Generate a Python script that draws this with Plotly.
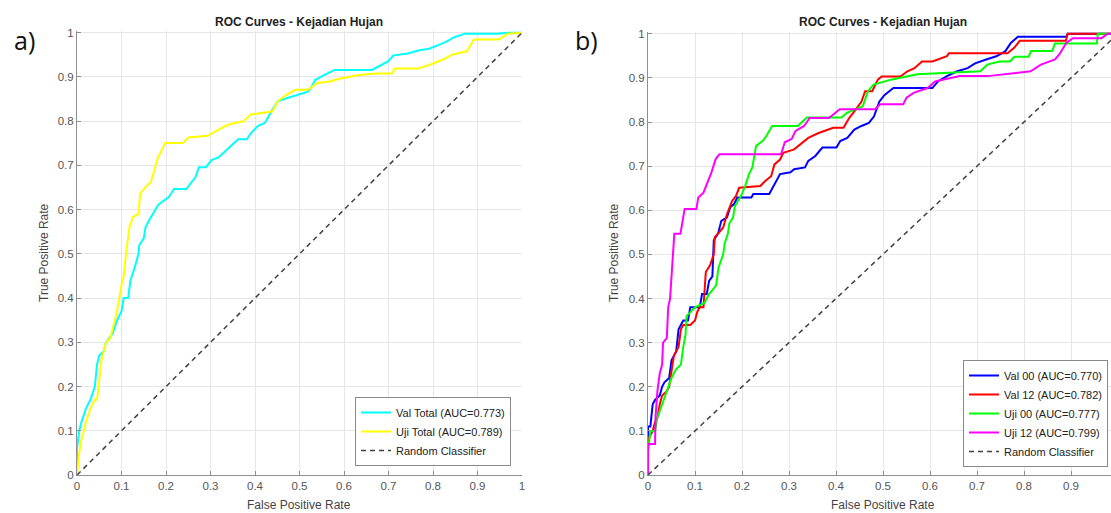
import plotly.graph_objects as go

W, H = 1111, 513

# ---------------- data ----------------
tick_vals = [0, 0.1, 0.2, 0.3, 0.4, 0.5, 0.6, 0.7, 0.8, 0.9, 1]
tick_text = ["0", "0.1", "0.2", "0.3", "0.4", "0.5", "0.6", "0.7", "0.8", "0.9", "1"]

diag_fpr = [0, 1]
diag_tpr = [0, 1]

# Panel a)
val_total_fpr = [0, 0, 0.005, 0.01, 0.02, 0.03, 0.04, 0.045, 0.05, 0.06,
                 0.065, 0.08, 0.09, 0.1, 0.105, 0.115, 0.12, 0.13, 0.138, 0.14,
                 0.15, 0.154, 0.162, 0.17, 0.182, 0.194, 0.206, 0.218, 0.246, 0.254,
                 0.266, 0.274, 0.29, 0.302, 0.318, 0.33, 0.342, 0.362, 0.382, 0.39,
                 0.406, 0.422, 0.439, 0.451, 0.471, 0.495, 0.519, 0.527, 0.535, 0.555,
                 0.579, 0.663, 0.683, 0.699, 0.711, 0.743, 0.767, 0.791, 0.812, 0.828,
                 0.848, 0.872, 0.944, 0.968, 1.0]
val_total_tpr = [0, 0.06, 0.1, 0.12, 0.15, 0.17, 0.2, 0.25, 0.27, 0.28,
                 0.3, 0.32, 0.35, 0.37, 0.4, 0.4, 0.44, 0.47, 0.5, 0.52,
                 0.535, 0.56, 0.576, 0.59, 0.61, 0.62, 0.628, 0.647, 0.647, 0.658,
                 0.673, 0.696, 0.696, 0.712, 0.718, 0.729, 0.74, 0.759, 0.759, 0.772,
                 0.789, 0.796, 0.826, 0.845, 0.852, 0.86, 0.867, 0.878, 0.893, 0.904,
                 0.916, 0.916, 0.927, 0.935, 0.949, 0.953, 0.96, 0.964, 0.972, 0.979,
                 0.99, 0.998, 0.998, 1.0, 1.0]

uji_total_fpr = [0, 0.005, 0.01, 0.02, 0.03, 0.04, 0.045, 0.05, 0.055, 0.065,
                 0.075, 0.08, 0.09, 0.1, 0.105, 0.11, 0.118, 0.126, 0.138, 0.142,
                 0.154, 0.166, 0.174, 0.182, 0.19, 0.198, 0.238, 0.25, 0.294, 0.318,
                 0.342, 0.374, 0.39, 0.439, 0.451, 0.471, 0.491, 0.519, 0.539, 0.567,
                 0.595, 0.631, 0.671, 0.707, 0.715, 0.767, 0.791, 0.824, 0.844, 0.876,
                 0.892, 0.948, 0.968, 1.0]
uji_total_tpr = [0, 0.05, 0.08, 0.12, 0.15, 0.17, 0.17, 0.22, 0.26, 0.3,
                 0.31, 0.33, 0.37, 0.43, 0.45, 0.5, 0.561, 0.584, 0.59, 0.636,
                 0.651, 0.662, 0.688, 0.718, 0.733, 0.751, 0.751, 0.763, 0.767, 0.781,
                 0.793, 0.8, 0.815, 0.822, 0.845, 0.86, 0.871, 0.871, 0.886, 0.89,
                 0.897, 0.904, 0.908, 0.908, 0.919, 0.919, 0.927, 0.94, 0.951, 0.958,
                 0.985, 0.985, 0.998, 1.0]

# Panel b)
val00_fpr = [0, 0, 0.005, 0.01, 0.015, 0.025, 0.03, 0.035, 0.045, 0.05,
             0.055, 0.06, 0.065, 0.075, 0.085, 0.09, 0.11, 0.115, 0.125, 0.13,
             0.137, 0.138, 0.14, 0.149, 0.156, 0.168, 0.175, 0.183, 0.19, 0.22,
             0.224, 0.258, 0.265, 0.273, 0.281, 0.303, 0.311, 0.334, 0.341, 0.356,
             0.371, 0.401, 0.409, 0.424, 0.439, 0.454, 0.47, 0.481, 0.492, 0.503,
             0.522, 0.605, 0.617, 0.636, 0.658, 0.68, 0.696, 0.718, 0.741, 0.76,
             0.772, 0.787, 0.89, 0.893, 1.0]
val00_tpr = [0, 0.11, 0.11, 0.16, 0.17, 0.18, 0.2, 0.21, 0.22, 0.26,
             0.27, 0.28, 0.33, 0.35, 0.35, 0.38, 0.38, 0.41, 0.41, 0.44,
             0.45, 0.5, 0.532, 0.547, 0.576, 0.584, 0.607, 0.614, 0.629, 0.629,
             0.637, 0.637, 0.651, 0.667, 0.682, 0.686, 0.693, 0.697, 0.712, 0.723,
             0.742, 0.742, 0.757, 0.764, 0.783, 0.791, 0.798, 0.813, 0.846, 0.861,
             0.877, 0.877, 0.892, 0.904, 0.915, 0.922, 0.933, 0.941, 0.949, 0.96,
             0.979, 0.993, 0.993, 1.0, 1.0]

val12_fpr = [0, 0, 0.01, 0.015, 0.02, 0.025, 0.03, 0.04, 0.045, 0.05,
             0.055, 0.065, 0.07, 0.075, 0.09, 0.1, 0.105, 0.11, 0.118, 0.123,
             0.132, 0.14, 0.142, 0.149, 0.16, 0.168, 0.179, 0.187, 0.194, 0.239,
             0.25, 0.262, 0.269, 0.281, 0.288, 0.311, 0.326, 0.341, 0.363, 0.394,
             0.416, 0.428, 0.439, 0.454, 0.462, 0.477, 0.489, 0.497, 0.537, 0.552,
             0.567, 0.583, 0.605, 0.636, 0.64, 0.765, 0.779, 0.791, 0.889, 0.893,
             1.0]
val12_tpr = [0, 0.08, 0.1, 0.12, 0.13, 0.16, 0.18, 0.19, 0.2, 0.24,
             0.27, 0.29, 0.33, 0.34, 0.34, 0.35, 0.37, 0.38, 0.38, 0.46,
             0.475, 0.5, 0.539, 0.547, 0.561, 0.591, 0.621, 0.632, 0.651, 0.655,
             0.667, 0.677, 0.704, 0.715, 0.73, 0.738, 0.752, 0.764, 0.775, 0.787,
             0.787, 0.809, 0.824, 0.846, 0.87, 0.87, 0.896, 0.903, 0.903, 0.915,
             0.922, 0.937, 0.937, 0.949, 0.956, 0.956, 0.968, 0.984, 0.984, 1.0,
             1.0]

uji00_fpr = [0, 0, 0.005, 0.015, 0.02, 0.03, 0.04, 0.05, 0.06, 0.07,
             0.075, 0.08, 0.082, 0.1, 0.12, 0.13, 0.145, 0.15, 0.16, 0.163,
             0.17, 0.173, 0.181, 0.185, 0.192, 0.2, 0.207, 0.215, 0.222, 0.23,
             0.245, 0.252, 0.264, 0.319, 0.338, 0.412, 0.423, 0.457, 0.468, 0.48,
             0.517, 0.573, 0.707, 0.722, 0.748, 0.77, 0.78, 0.81, 0.815, 0.86,
             0.866, 0.955, 0.957, 1.0]
uji00_tpr = [0, 0.05, 0.1, 0.1, 0.13, 0.16, 0.19, 0.22, 0.24, 0.25,
             0.29, 0.32, 0.36, 0.38, 0.39, 0.41, 0.43, 0.47, 0.5, 0.524,
             0.547, 0.57, 0.584, 0.61, 0.622, 0.637, 0.656, 0.682, 0.697, 0.746,
             0.758, 0.769, 0.791, 0.791, 0.81, 0.81, 0.821, 0.836, 0.87, 0.885,
             0.896, 0.908, 0.915, 0.93, 0.937, 0.937, 0.948, 0.948, 0.961, 0.961,
             0.978, 0.978, 1.0, 1.0]

uji12_fpr = [0, 0, 0.015, 0.016, 0.02, 0.025, 0.03, 0.032, 0.04, 0.043,
             0.047, 0.05, 0.054, 0.056, 0.069, 0.078, 0.103, 0.107, 0.118, 0.128,
             0.135, 0.144, 0.152, 0.283, 0.291, 0.306, 0.314, 0.332, 0.344, 0.385,
             0.408, 0.483, 0.494, 0.543, 0.55, 0.565, 0.595, 0.611, 0.663, 0.723,
             0.814, 0.836, 0.866, 0.875, 0.89, 0.904, 0.965, 0.978, 1.0]
uji12_tpr = [0, 0.07, 0.07, 0.13, 0.19, 0.23, 0.25, 0.3, 0.31, 0.38,
             0.4, 0.45, 0.5, 0.547, 0.547, 0.603, 0.603, 0.629, 0.64, 0.667,
             0.686, 0.716, 0.727, 0.727, 0.754, 0.762, 0.78, 0.791, 0.809, 0.809,
             0.829, 0.829, 0.84, 0.84, 0.855, 0.866, 0.877, 0.892, 0.904, 0.904,
             0.915, 0.93, 0.942, 0.953, 0.979, 0.99, 0.99, 1.0, 1.0]

for a, b in [(val_total_fpr, val_total_tpr), (uji_total_fpr, uji_total_tpr),
             (val00_fpr, val00_tpr), (val12_fpr, val12_tpr),
             (uji00_fpr, uji00_tpr), (uji12_fpr, uji12_tpr)]:
    assert len(a) == len(b), (len(a), len(b))

# ---------------- figure ----------------
def fx(p):
    return p / W


def fy(p):
    return (H - p) / H


FONT = "Liberation Sans, Arial, Helvetica, sans-serif"
AXIS_GREY = "#8f8f8f"
TICK_GREY = "#555555"
GRID = "#e6e6e6"
DASH = "5px,4px"

fig = go.Figure()

left = [
    (val_total_fpr, val_total_tpr, "Val Total (AUC=0.773)", "#00ffff"),
    (uji_total_fpr, uji_total_tpr, "Uji Total (AUC=0.789)", "#ffff00"),
]
for xs, ys, name, col in left:
    fig.add_trace(go.Scatter(x=xs, y=ys, mode="lines", name=name,
                             line=dict(color=col, width=2),
                             xaxis="x", yaxis="y", legend="legend"))
fig.add_trace(go.Scatter(x=diag_fpr, y=diag_tpr, mode="lines", name="Random Classifier",
                         line=dict(color="#404040", width=1.5, dash=DASH),
                         xaxis="x", yaxis="y", legend="legend"))

right = [
    (val00_fpr, val00_tpr, "Val 00 (AUC=0.770)", "#0000ff"),
    (val12_fpr, val12_tpr, "Val 12 (AUC=0.782)", "#ff0000"),
    (uji00_fpr, uji00_tpr, "Uji 00 (AUC=0.777)", "#00ff00"),
    (uji12_fpr, uji12_tpr, "Uji 12 (AUC=0.799)", "#ff00ff"),
]
for xs, ys, name, col in right:
    fig.add_trace(go.Scatter(x=xs, y=ys, mode="lines", name=name,
                             line=dict(color=col, width=2),
                             xaxis="x2", yaxis="y2", legend="legend2"))
fig.add_trace(go.Scatter(x=diag_fpr, y=diag_tpr, mode="lines", name="Random Classifier",
                         line=dict(color="#404040", width=1.5, dash=DASH),
                         xaxis="x2", yaxis="y2", legend="legend2"))

axis_common = dict(
    showgrid=True, gridcolor=GRID, gridwidth=1,
    showline=True, linecolor=AXIS_GREY, linewidth=1,
    ticks="inside", ticklen=4, tickcolor=AXIS_GREY, tickwidth=1,
    tickvals=tick_vals, ticktext=tick_text,
    tickfont=dict(family=FONT, size=11.5, color=TICK_GREY),
    zeroline=False, automargin=False, fixedrange=True,
)

fig.update_layout(
    width=W, height=H,
    margin=dict(l=0, r=0, t=0, b=0),
    paper_bgcolor="white", plot_bgcolor="white",
    font=dict(family=FONT, color="#222222"),
    xaxis=dict(domain=[fx(77), fx(522)], range=[0, 1], anchor="y", **axis_common),
    yaxis=dict(domain=[fy(475), fy(31)], range=[0, 1.004], anchor="x", **axis_common),
    xaxis2=dict(domain=[fx(648), 1.0], range=[0, (W - 648) / 470], anchor="y2", **axis_common),
    yaxis2=dict(domain=[fy(475), fy(32)], range=[0, 1.004], anchor="x2", **axis_common),
    legend=dict(x=fx(511), xanchor="right", y=fy(466), yanchor="bottom",
                bgcolor="white", bordercolor="#8a8a8a", borderwidth=1,
                font=dict(family=FONT, size=11, color="#222222"),
                tracegroupgap=0),
    legend2=dict(x=fx(1108), xanchor="right", y=fy(467), yanchor="bottom",
                 bgcolor="white", bordercolor="#8a8a8a", borderwidth=1,
                 font=dict(family=FONT, size=11, color="#222222"),
                 tracegroupgap=0),
    showlegend=True,
    hovermode=False,
)

ann = []
for cx in (fx(299), fx(883)):
    ann.append(dict(text="<b>ROC Curves - Kejadian Hujan</b>", x=cx, y=fy(22),
                    xref="paper", yref="paper", showarrow=False,
                    font=dict(family=FONT, size=12, color="#222222"),
                    xanchor="center", yanchor="middle"))
    ann.append(dict(text="False Positive Rate", x=cx, y=fy(505),
                    xref="paper", yref="paper", showarrow=False,
                    font=dict(family=FONT, size=12, color="#444444"),
                    xanchor="center", yanchor="middle"))
for tx in (fx(44), fx(614)):
    ann.append(dict(text="True Positive Rate", x=tx, y=fy(253), textangle=-90,
                    xref="paper", yref="paper", showarrow=False,
                    font=dict(family=FONT, size=12, color="#444444"),
                    xanchor="center", yanchor="middle"))
ann.append(dict(text="a)", x=fx(24), y=fy(40), xref="paper", yref="paper",
                showarrow=False, font=dict(family="Open Sans, Noto Sans, sans-serif", size=25, color="#111111"),
                xanchor="center", yanchor="middle"))
ann.append(dict(text="b)", x=fx(586), y=fy(40), xref="paper", yref="paper",
                showarrow=False, font=dict(family="Open Sans, Noto Sans, sans-serif", size=25, color="#111111"),
                xanchor="center", yanchor="middle"))
fig.update_layout(annotations=ann)

fig.write_html(
    "out.html",
    config={"displayModeBar": False, "staticPlot": False},
    post_script="document.body.style.margin='0';document.body.style.padding='0';"
                "document.body.style.overflow='hidden';",
)
